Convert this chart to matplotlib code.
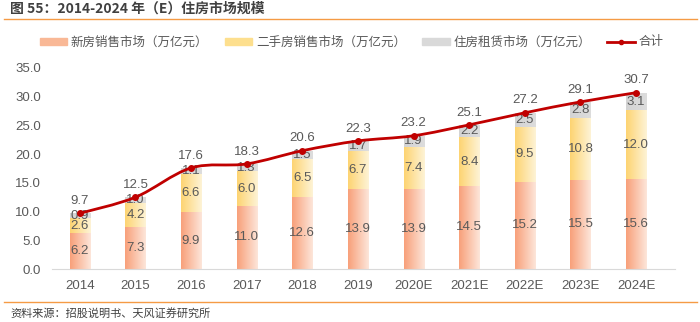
import numpy as np
import matplotlib
matplotlib.use("Agg")
import matplotlib.pyplot as plt
from matplotlib.colors import LinearSegmentedColormap
from matplotlib.path import Path
from matplotlib.patches import PathPatch
from matplotlib.lines import Line2D
from matplotlib.patches import Rectangle

plt.rcParams['font.family'] = ['Noto Sans CJK SC', 'DejaVu Sans']

years = ["2014", "2015", "2016", "2017", "2018", "2019", "2020E", "2021E", "2022E", "2023E", "2024E"]
new_sales = [6.2, 7.3, 9.9, 11.0, 12.6, 13.9, 13.9, 14.5, 15.2, 15.5, 15.6]
second_sales = [2.6, 4.2, 6.6, 6.0, 6.5, 6.7, 7.4, 8.4, 9.5, 10.8, 12.0]
rental = [0.9, 1.0, 1.1, 1.3, 1.5, 1.7, 1.9, 2.2, 2.5, 2.8, 3.1]
total = [9.7, 12.5, 17.6, 18.3, 20.6, 22.3, 23.2, 25.1, 27.2, 29.1, 30.7]

names = ["新房销售市场（万亿元）", "二手房销售市场（万亿元）", "住房租赁市场（万亿元）", "合计"]

TXT = "#595959"
RED = "#C00000"
ORANGE_LINE = "#F59B45"

fig = plt.figure(figsize=(7, 3.22), dpi=100)
ax = fig.add_axes([52 / 700, 1 - 269 / 322, 623 / 700, 201 / 322])

x = np.arange(len(years))
w = 0.36
cmaps = [
    LinearSegmentedColormap.from_list("o", ["#F8A07A", "#FDE6DA"]),
    LinearSegmentedColormap.from_list("y", ["#FDD472", "#FEF3D6"]),
    LinearSegmentedColormap.from_list("g", ["#D3D3D3", "#DDDDDD"]),
]
grad = np.linspace(0, 1, 64).reshape(1, -1)

bottom = np.zeros(len(years))
for vals, cm in zip([new_sales, second_sales, rental], cmaps):
    bars = ax.bar(x, vals, w, bottom=bottom, color="none", edgecolor="none")
    for b, v, bt in zip(bars, vals, bottom):
        x0 = b.get_x()
        im = ax.imshow(grad, cmap=cm, aspect="auto", extent=[x0, x0 + w, bt, bt + v], zorder=1)
        im.set_clip_path(b)
        ax.text(x0 + w / 2, bt + v / 2, f"{v:.1f}", ha="center", va="center",
                fontsize=9.5, color=TXT, family="Liberation Sans", zorder=4)
    bottom = bottom + np.array(vals)

# smooth total line (Catmull-Rom as cubic Bezier)
pts = np.column_stack([x, total]).astype(float)
verts = [tuple(pts[0])]
codes = [Path.MOVETO]
for i in range(len(pts) - 1):
    p0 = pts[i - 1] if i > 0 else pts[i]
    p1, p2 = pts[i], pts[i + 1]
    p3 = pts[i + 2] if i + 2 < len(pts) else pts[i + 1]
    c1 = p1 + (p2 - p0) / 6
    c2 = p2 - (p3 - p1) / 6
    verts += [tuple(c1), tuple(c2), tuple(p2)]
    codes += [Path.CURVE4] * 3
ax.add_patch(PathPatch(Path(verts, codes), fill=False, edgecolor=RED, lw=2, zorder=5))
ax.plot(x, total, "o", color=RED, ms=4, zorder=6)
for xi, t in zip(x, total):
    ax.text(xi, t + 1.1, f"{t:.1f}", ha="center", va="bottom", fontsize=9.5,
            color=TXT, family="Liberation Sans", zorder=6)

ax.set_xlim(-0.5, len(years) - 0.3)
ax.set_ylim(0, 35)
ax.set_yticks(np.arange(0, 35.1, 5))
ax.set_yticklabels([f"{v:.1f}" for v in np.arange(0, 35.1, 5)], family="Liberation Sans")
ax.set_xticks(x)
ax.set_xticklabels(years, family="Liberation Sans")
ax.tick_params(axis="both", length=0, labelsize=9.5, labelcolor=TXT)
ax.tick_params(axis="x", pad=8)
ax.tick_params(axis="y", pad=8)
for s in ["top", "right", "left"]:
    ax.spines[s].set_visible(False)
ax.spines["bottom"].set_color("#D9D9D9")

handles = [
    Rectangle((0, 0), 1, 1, color="#F9B896"),
    Rectangle((0, 0), 1, 1, color="#FDDF8E"),
    Rectangle((0, 0), 1, 1, color="#D9D9D9"),
    Line2D([], [], color=RED, lw=2, marker="o", ms=3),
]
fig.legend(handles, names, loc="center", bbox_to_anchor=(0.502, 1 - 42 / 322), ncol=4,
           frameon=False, fontsize=9, labelcolor=TXT, handlelength=2.2, handleheight=0.5,
           columnspacing=1.3, handletextpad=0.3)

fig.text(10 / 700, 1 - 9 / 322, "图 55：2014-2024 年（E）住房市场规模", fontsize=10,
         fontweight="bold", color="#404040", va="center", ha="left")
fig.add_artist(Line2D([0.005, 0.995], [1 - 19 / 322] * 2, color=ORANGE_LINE, lw=1))
fig.add_artist(Line2D([0.005, 0.995], [1 - 302 / 322] * 2, color=ORANGE_LINE, lw=1))
fig.text(10 / 700, 1 - 313 / 322, "资料来源：招股说明书、天风证券研究所", fontsize=8,
         color="#404040", va="center", ha="left")

fig.savefig("out.png", dpi=100, facecolor="white")
